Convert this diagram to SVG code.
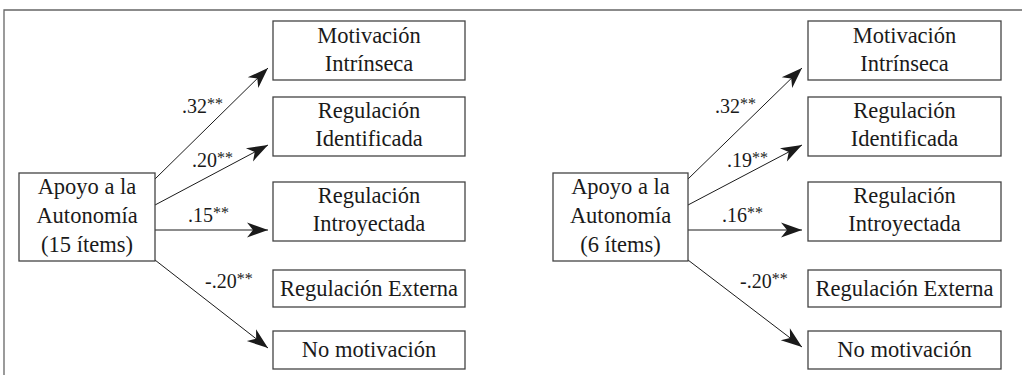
<svg xmlns="http://www.w3.org/2000/svg" width="1022" height="375" viewBox="0 0 1022 375" font-family="'Liberation Serif','DejaVu Serif','Noto Serif',Tinos,'Times New Roman',Times,serif">
<style>
.box{fill:#fff;stroke:#444;stroke-width:1.3}
.t{font-size:22.5px;fill:#1a1a1a;text-anchor:middle}
.n{font-size:20px;fill:#1a1a1a}
.s{font-size:16px}
.c{stroke:#1a1a1a;stroke-width:1;fill:none;marker-end:url(#ah)}
</style>
<defs>
<marker id="ah" markerUnits="userSpaceOnUse" viewBox="-22 -8 24 16" refX="0" refY="0" markerWidth="24" markerHeight="16" orient="auto">
<path d="M0,0 L-21,-7.5 L-15,0 L-21,7.5 Z" fill="#1a1a1a"/>
</marker>
</defs>
<rect x="0" y="0" width="1022" height="375" fill="#fff"/>
<path d="M4,375 V10 H1022" fill="none" stroke="#666" stroke-width="1.3"/>

<g id="connectors">
<path class="c" d="M155,179 L268,68"/>
<path class="c" d="M155,205 L268,145"/>
<path class="c" d="M155,230 L268,230"/>
<path class="c" d="M155,260 L268,348"/>
<path class="c" d="M688,179 L802,68"/>
<path class="c" d="M688,205 L802,145"/>
<path class="c" d="M688,230 L802,230"/>
<path class="c" d="M688,260 L802,347"/>
<text class="n" x="182" y="113">.32<tspan class="s" dy="-4">**</tspan></text>
<text class="n" x="192" y="167">.20<tspan class="s" dy="-4">**</tspan></text>
<text class="n" x="188" y="222">.15<tspan class="s" dy="-4">**</tspan></text>
<text class="n" x="205" y="288">-.20<tspan class="s" dy="-4">**</tspan></text>
<text class="n" x="715" y="113">.32<tspan class="s" dy="-4">**</tspan></text>
<text class="n" x="727" y="167">.19<tspan class="s" dy="-4">**</tspan></text>
<text class="n" x="722" y="222">.16<tspan class="s" dy="-4">**</tspan></text>
<text class="n" x="740" y="288">-.20<tspan class="s" dy="-4">**</tspan></text>
</g>

<g id="src1"><rect class="box" x="19" y="173" width="136" height="88"/>
<text class="t" x="87" y="194">Apoyo a la</text><text class="t" x="87" y="223">Autonomía</text><text class="t" x="87" y="252">(15 ítems)</text></g>
<g id="l-mi"><rect class="box" x="273" y="21" width="192" height="59"/>
<text class="t" x="369" y="43">Motivación</text><text class="t" x="369" y="71">Intrínseca</text></g>
<g id="l-ri"><rect class="box" x="273" y="97" width="192" height="59"/>
<text class="t" x="369" y="118">Regulación</text><text class="t" x="369" y="146">Identificada</text></g>
<g id="l-rin"><rect class="box" x="273" y="182" width="192" height="59"/>
<text class="t" x="369" y="203">Regulación</text><text class="t" x="369" y="231">Introyectada</text></g>
<g id="l-re"><rect class="box" x="273" y="270" width="192" height="37"/>
<text class="t" x="369" y="296">Regulación Externa</text></g>
<g id="l-nm"><rect class="box" x="273" y="331" width="192" height="38"/>
<text class="t" x="369" y="357">No motivación</text></g>

<g id="src2"><rect class="box" x="553" y="173" width="135" height="88"/>
<text class="t" x="620.5" y="194">Apoyo a la</text><text class="t" x="620.5" y="223">Autonomía</text><text class="t" x="620.5" y="252">(6 ítems)</text></g>
<g id="r-mi"><rect class="box" x="808" y="21" width="193" height="59"/>
<text class="t" x="904.5" y="43">Motivación</text><text class="t" x="904.5" y="71">Intrínseca</text></g>
<g id="r-ri"><rect class="box" x="808" y="97" width="193" height="59"/>
<text class="t" x="904.5" y="118">Regulación</text><text class="t" x="904.5" y="146">Identificada</text></g>
<g id="r-rin"><rect class="box" x="808" y="182" width="193" height="59"/>
<text class="t" x="904.5" y="203">Regulación</text><text class="t" x="904.5" y="231">Introyectada</text></g>
<g id="r-re"><rect class="box" x="808" y="270" width="193" height="37"/>
<text class="t" x="904.5" y="296">Regulación Externa</text></g>
<g id="r-nm"><rect class="box" x="808" y="331" width="193" height="38"/>
<text class="t" x="904.5" y="357">No motivación</text></g>
</svg>
